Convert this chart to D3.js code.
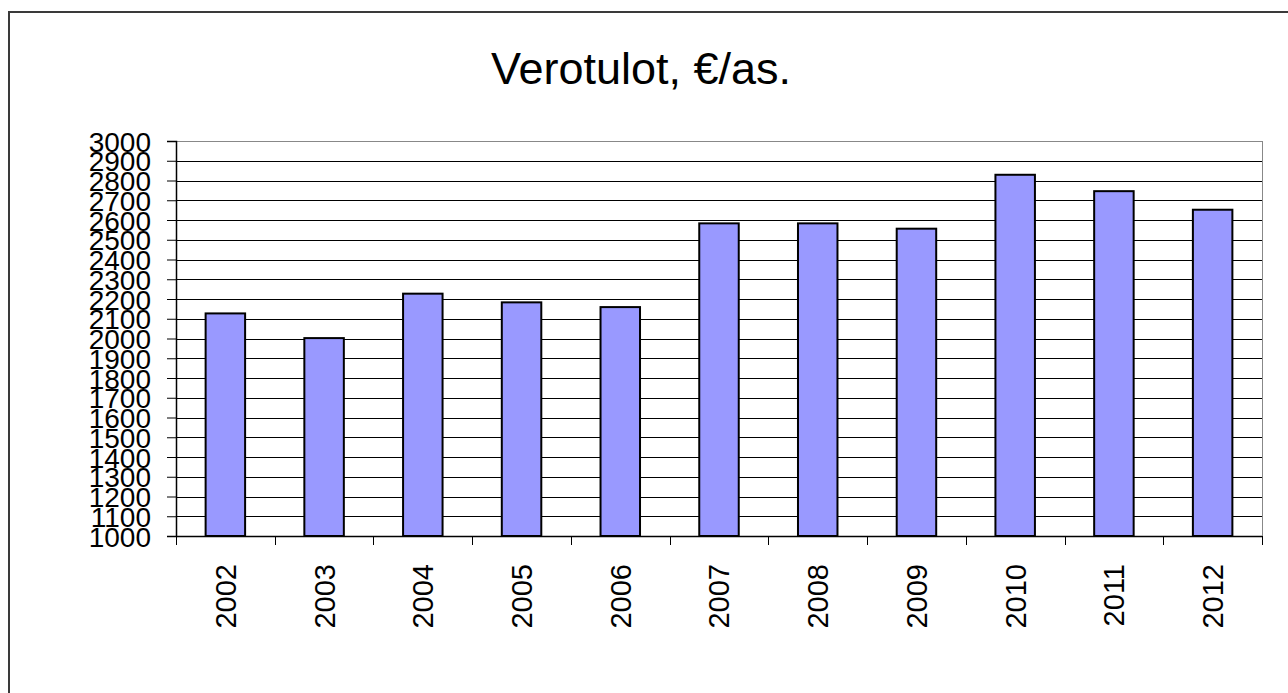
<!DOCTYPE html>
<html>
  <head>
    <meta charset="utf-8">
    <style>
      body {
          margin: 0;
          background: #fff;
          font-family: "Liberation Sans", Arial, sans-serif;
      }
      .grid line {
          stroke: #000;
          stroke-width: 1;
          shape-rendering: crispEdges;
      }
      .bar {
          fill: #9999ff;
          stroke: #000;
          stroke-width: 2;
      }
    </style>
  </head>
  <body>
    <script src="https://d3js.org/d3.v7.min.js"></script>
    <script>
      // data
      var years = ["2002", "2003", "2004", "2005", "2006", "2007", "2008", "2009", "2010", "2011", "2012"];
      var values = [2127, 2002, 2227, 2183, 2159, 2583, 2583, 2556, 2829, 2746, 2652];
      var yTicks = [1000, 1100, 1200, 1300, 1400, 1500, 1600, 1700, 1800, 1900, 2000,
                    2100, 2200, 2300, 2400, 2500, 2600, 2700, 2800, 2900, 3000];
      var title = "Verotulot, €/as.";

      var W = 1288, H = 693;
      var plot = {left: 176, right: 1262, top: 141, bottom: 536};

      var svg = d3.select("body").append("svg")
          .attr("width", W)
          .attr("height", H);

      // outer frame of the chart
      svg.append("rect")
          .attr("x", 9).attr("y", 12)
          .attr("width", W + 10).attr("height", H + 10)
          .attr("fill", "#fff")
          .attr("stroke", "#3a3a3a")
          .attr("stroke-width", 2);

      var x = d3.scaleBand()
          .domain(years)
          .range([plot.left, plot.right])
          .paddingInner(0.6)
          .paddingOuter(0.3);

      var xb = d3.scaleBand()   // full bands for tick marks
          .domain(years)
          .range([plot.left, plot.right]);

      var y = d3.scaleLinear()
          .domain([1000, 3000])
          .range([plot.bottom, plot.top]);

      // title
      svg.append("text")
          .attr("x", 641)
          .attr("y", 84)
          .attr("text-anchor", "middle")
          .style("font-size", "45px")
          .text(title);

      // grid lines
      svg.append("g").attr("class", "grid")
          .selectAll("line")
          .data(yTicks.slice(1))
          .enter().append("line")
          .attr("x1", plot.left).attr("x2", plot.right)
          .attr("y1", function(d) { return Math.round(y(d)) + 0.5; })
          .attr("y2", function(d) { return Math.round(y(d)) + 0.5; })
          .style("stroke", function(d) { return d == 3000 ? "#888" : "#000"; });

      // right border of plot area
      svg.append("line")
          .attr("x1", plot.right + 0.5).attr("x2", plot.right + 0.5)
          .attr("y1", plot.top).attr("y2", plot.bottom)
          .attr("stroke", "#888");

      // bars
      svg.append("g").selectAll(".bar")
          .data(values)
          .enter().append("rect")
          .attr("class", "bar")
          .attr("x", function(d, i) { return x(years[i]); })
          .attr("width", x.bandwidth())
          .attr("y", function(d) { return y(d); })
          .attr("height", function(d) { return y(1000) - y(d); });

      // y axis
      var yAxis = d3.axisLeft(y)
          .tickValues(yTicks)
          .tickSize(9)
          .tickPadding(16)
          .tickFormat(d3.format("d"));

      var gy = svg.append("g")
          .attr("transform", "translate(" + plot.left + ",0)")
          .call(yAxis);
      gy.select(".domain").attr("stroke", "#000").attr("stroke-width", 1.5);
      gy.selectAll(".tick line").attr("stroke", "#000");
      gy.selectAll("text")
          .attr("fill", "#000")
          .style("font-size", "28px")
          .style("font-family", "'Liberation Sans', Arial, sans-serif")
          .attr("dy", "0.36em");

      // x axis line
      svg.append("line")
          .attr("x1", plot.left).attr("x2", plot.right)
          .attr("y1", plot.bottom + 0.5).attr("y2", plot.bottom + 0.5)
          .attr("stroke", "#000").attr("stroke-width", 1.5);

      // x tick marks on band boundaries
      var bounds = years.map(function(d) { return xb(d); }).concat([plot.right]);
      svg.append("g").selectAll("line")
          .data(bounds)
          .enter().append("line")
          .attr("x1", function(d) { return Math.round(d) + 0.5; })
          .attr("x2", function(d) { return Math.round(d) + 0.5; })
          .attr("y1", plot.bottom).attr("y2", plot.bottom + 9)
          .attr("stroke", "#000");

      // x labels, rotated
      svg.append("g").selectAll("text")
          .data(years)
          .enter().append("text")
          .attr("transform", function(d) {
              return "translate(" + (xb(d) + xb.bandwidth() / 2) + "," + (plot.bottom + 28) + ") rotate(-90)";
          })
          .attr("text-anchor", "end")
          .attr("dy", "0.36em")
          .style("font-size", "29px")
          .text(function(d) { return d; });
    </script>
  </body>
</html>
